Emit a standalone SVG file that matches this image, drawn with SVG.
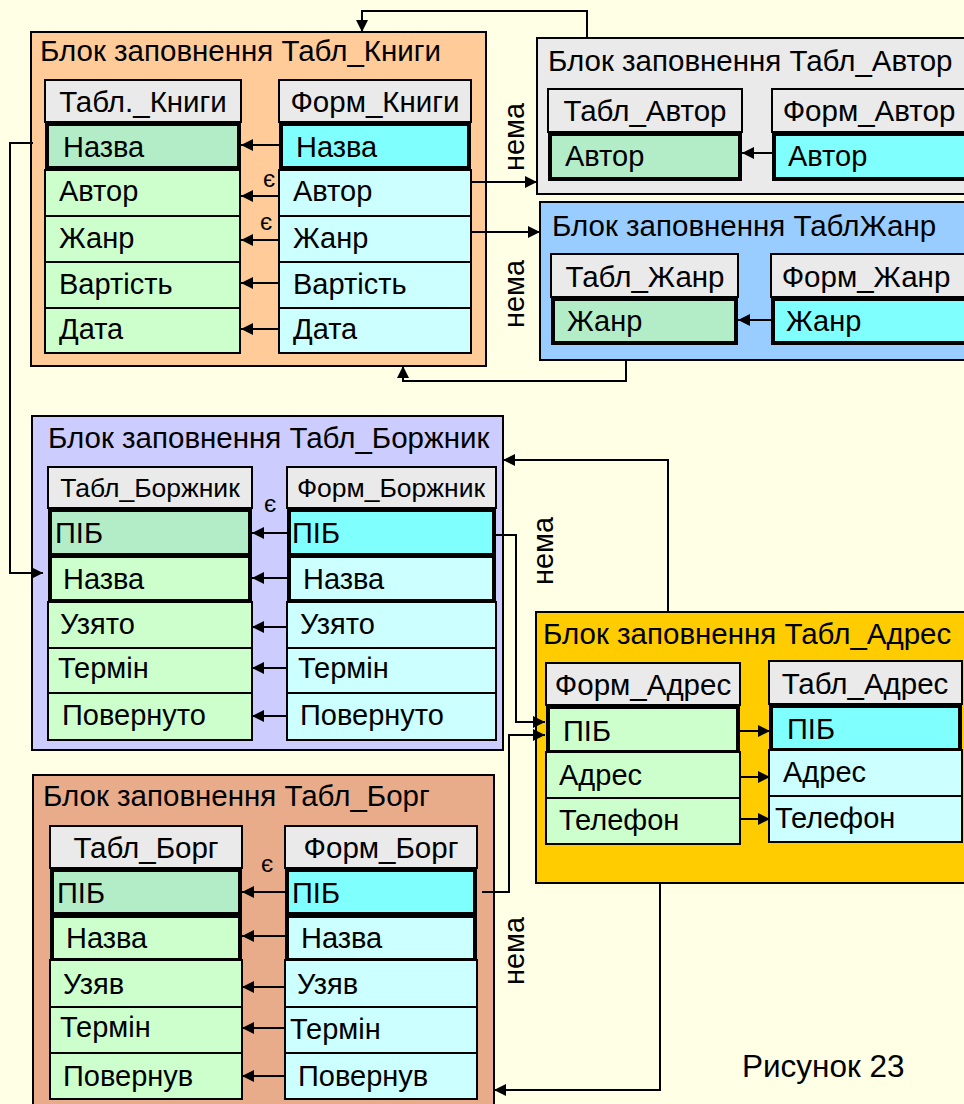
<svg xmlns="http://www.w3.org/2000/svg" width="964" height="1104" viewBox="0 0 964 1104">
<style>
text{font-family:"Liberation Sans",Arial,sans-serif;fill:#000}
.blk{stroke:#000;stroke-width:2}
.ttl{font-size:29.5px}
.hd{fill:#EAEAEA;stroke:#000;stroke-width:2}
.hdt{font-size:29.5px;text-anchor:middle}
.hds{font-size:26.5px;text-anchor:middle}
.rl{fill:#CCFFCC;stroke:#000;stroke-width:2}
.rr{fill:#CCFFFF;stroke:#000;stroke-width:2}
.kl{fill:#B3EDC8;stroke:#000;stroke-width:4}
.kr{fill:#80FFFF;stroke:#000;stroke-width:4}
.kl2{fill:#CCFFCC;stroke:#000;stroke-width:4}
.kr2{fill:#CCFFFF;stroke:#000;stroke-width:4}
.rt{font-size:29px}
.e{font-size:24px;text-anchor:middle}
.c{fill:none;stroke:#000;stroke-width:2;marker-end:url(#ah)}
.nm{font-size:29px;text-anchor:middle}
</style>
<defs>
<marker id="ah" viewBox="0 0 12 12" refX="12" refY="6" markerWidth="12" markerHeight="12" markerUnits="userSpaceOnUse" orient="auto">
<path d="M0,0 L12,6 L0,12 z" fill="#000"/>
</marker>
</defs>
<rect width="964" height="1104" fill="#FFFFE6"/>

<g id="blok-knyhy">
<rect class="blk" x="31" y="32" width="455" height="334" fill="#FFCC99"/>
<text class="ttl" x="40" y="61">Блок заповнення Табл_Книги</text>
<rect class="hd" x="45" y="80" width="196" height="42"/>
<text class="hdt" x="143" y="112">Табл._Книги</text>
<rect class="kl" x="47" y="124" width="192" height="44"/>
<text class="rt" x="63" y="157">Назва</text>
<rect class="rl" x="45" y="170" width="195" height="46"/>
<text class="rt" x="59" y="201">Автор</text>
<rect class="rl" x="45" y="216" width="195" height="46"/>
<text class="rt" x="59" y="248">Жанр</text>
<rect class="rl" x="45" y="262" width="195" height="46"/>
<text class="rt" x="59" y="294">Вартість</text>
<rect class="rl" x="45" y="308" width="195" height="45"/>
<text class="rt" x="59" y="339">Дата</text>
<rect class="hd" x="279" y="80" width="192" height="42"/>
<text class="hdt" x="375" y="112">Форм_Книги</text>
<rect class="kr" x="281" y="124" width="188" height="44"/>
<text class="rt" x="296" y="157">Назва</text>
<rect class="rr" x="279" y="170" width="192" height="46"/>
<text class="rt" x="293" y="201">Автор</text>
<rect class="rr" x="279" y="216" width="192" height="46"/>
<text class="rt" x="293" y="248">Жанр</text>
<rect class="rr" x="279" y="262" width="192" height="46"/>
<text class="rt" x="293" y="294">Вартість</text>
<rect class="rr" x="279" y="308" width="192" height="45"/>
<text class="rt" x="293" y="339">Дата</text>
<text class="e" x="269" y="187">є</text>
<text class="e" x="266" y="230">є</text>
</g>

<g id="blok-avtor">
<rect class="blk" x="537" y="38" width="440" height="156" fill="#EAEAEA"/>
<text class="ttl" x="548" y="71">Блок заповнення Табл_Автор</text>
<rect class="hd" x="548" y="89" width="194" height="43"/>
<text class="hdt" x="645" y="121">Табл_Автор</text>
<rect class="kl" x="550" y="134" width="190" height="45"/>
<text class="rt" x="565" y="166">Автор</text>
<rect class="hd" x="772" y="89" width="200" height="43"/>
<text class="hdt" x="869" y="121">Форм_Автор</text>
<rect class="kr" x="774" y="134" width="200" height="45"/>
<text class="rt" x="788" y="166">Автор</text>
</g>

<g id="blok-zhanr">
<rect class="blk" x="540" y="202" width="440" height="158" fill="#99CCFF"/>
<text class="ttl" x="552" y="236">Блок заповнення ТаблЖанр</text>
<rect class="hd" x="551" y="254" width="187" height="43"/>
<text class="hdt" x="645" y="287">Табл_Жанр</text>
<rect class="kl" x="553" y="299" width="183" height="44"/>
<text class="rt" x="567" y="331">Жанр</text>
<rect class="hd" x="771" y="254" width="200" height="43"/>
<text class="hdt" x="866" y="287">Форм_Жанр</text>
<rect class="kr" x="773" y="299" width="200" height="44"/>
<text class="rt" x="786" y="331">Жанр</text>
</g>

<g id="blok-borzhnyk">
<rect class="blk" x="32" y="416" width="471" height="334" fill="#CCCCFF"/>
<text class="ttl" x="48" y="448">Блок заповнення Табл_Боржник</text>
<rect class="hd" x="48" y="467" width="204" height="41"/>
<text class="hds" x="150" y="497">Табл_Боржник</text>
<rect class="kl" x="50" y="510" width="200" height="45"/>
<text class="rt" x="55" y="543">ПІБ</text>
<rect class="kl2" x="50" y="556" width="200" height="45"/>
<text class="rt" x="63" y="589">Назва</text>
<rect class="rl" x="48" y="602" width="204" height="46"/>
<text class="rt" x="60" y="634">Узято</text>
<rect class="rl" x="48" y="648" width="204" height="45"/>
<text class="rt" x="58" y="678">Термін</text>
<rect class="rl" x="48" y="693" width="204" height="47"/>
<text class="rt" x="62" y="725">Повернуто</text>
<rect class="hd" x="287" y="467" width="209" height="41"/>
<text class="hds" x="391" y="497">Форм_Боржник</text>
<rect class="kr" x="289" y="510" width="205" height="45"/>
<text class="rt" x="292" y="543">ПІБ</text>
<rect class="kr2" x="289" y="556" width="205" height="45"/>
<text class="rt" x="303" y="589">Назва</text>
<rect class="rr" x="287" y="602" width="209" height="46"/>
<text class="rt" x="300" y="634">Узято</text>
<rect class="rr" x="287" y="648" width="209" height="45"/>
<text class="rt" x="298" y="678">Термін</text>
<rect class="rr" x="287" y="693" width="209" height="47"/>
<text class="rt" x="300" y="725">Повернуто</text>
<text class="e" x="270" y="512">є</text>
</g>

<g id="blok-adres">
<rect class="blk" x="536" y="612" width="440" height="271" fill="#FFCC00"/>
<text class="ttl" x="543" y="644">Блок заповнення Табл_Адрес</text>
<rect class="hd" x="546" y="663" width="194" height="42"/>
<text class="hdt" x="643" y="695">Форм_Адрес</text>
<rect class="kl2" x="548" y="707" width="190" height="45"/>
<text class="rt" x="563" y="741">ПІБ</text>
<rect class="rl" x="546" y="752" width="194" height="46"/>
<text class="rt" x="559" y="785">Адрес</text>
<rect class="rl" x="546" y="798" width="194" height="46"/>
<text class="rt" x="559" y="830">Телефон</text>
<rect class="hd" x="769" y="661" width="193" height="43"/>
<text class="hdt" x="865" y="694">Табл_Адрес</text>
<rect class="kr" x="771" y="706" width="189" height="44"/>
<text class="rt" x="787" y="739">ПІБ</text>
<rect class="rr" x="769" y="750" width="193" height="46"/>
<text class="rt" x="783" y="782">Адрес</text>
<rect class="rr" x="769" y="796" width="193" height="46"/>
<text class="rt" x="775" y="828">Телефон</text>
</g>

<g id="blok-borh">
<rect class="blk" x="33" y="775" width="461" height="340" fill="#E8AC8A"/>
<text class="ttl" x="43" y="806">Блок заповнення Табл_Борг</text>
<rect class="hd" x="50" y="826" width="192" height="42"/>
<text class="hdt" x="146" y="858">Табл_Борг</text>
<rect class="kl" x="52" y="870" width="188" height="44"/>
<text class="rt" x="57" y="903">ПІБ</text>
<rect class="kl2" x="52" y="916" width="188" height="44"/>
<text class="rt" x="66" y="948">Назва</text>
<rect class="rl" x="50" y="960" width="192" height="47"/>
<text class="rt" x="63" y="994">Узяв</text>
<rect class="rl" x="50" y="1007" width="192" height="46"/>
<text class="rt" x="60" y="1037">Термін</text>
<rect class="rl" x="50" y="1053" width="192" height="46"/>
<text class="rt" x="63" y="1086">Повернув</text>
<rect class="hd" x="285" y="826" width="192" height="42"/>
<text class="hdt" x="381" y="858">Форм_Борг</text>
<rect class="kr" x="287" y="870" width="188" height="44"/>
<text class="rt" x="292" y="903">ПІБ</text>
<rect class="kr2" x="287" y="916" width="188" height="44"/>
<text class="rt" x="301" y="948">Назва</text>
<rect class="rr" x="285" y="960" width="192" height="47"/>
<text class="rt" x="297" y="994">Узяв</text>
<rect class="rr" x="285" y="1007" width="192" height="46"/>
<text class="rt" x="290" y="1039">Термін</text>
<rect class="rr" x="285" y="1053" width="192" height="46"/>
<text class="rt" x="298" y="1086">Повернув</text>
<text class="e" x="267" y="872">є</text>
</g>

<g id="connectors">
<line class="c" x1="279" y1="145" x2="241" y2="145"/>
<line class="c" x1="279" y1="196" x2="241" y2="196"/>
<line class="c" x1="279" y1="240" x2="241" y2="240"/>
<line class="c" x1="279" y1="283" x2="241" y2="283"/>
<line class="c" x1="279" y1="329" x2="241" y2="329"/>
<line class="c" x1="471" y1="182" x2="537" y2="182"/>
<line class="c" x1="471" y1="232" x2="540" y2="232"/>
<line class="c" x1="772" y1="153" x2="742" y2="153"/>
<line class="c" x1="771" y1="320" x2="738" y2="320"/>
<path class="c" d="M587,38 V11 H362 V32"/>
<path class="c" d="M626,360 V381 H403 V366"/>
<path class="c" d="M33,143 H10 V573 H43"/>
<line class="c" x1="287" y1="533" x2="252" y2="533"/>
<line class="c" x1="287" y1="578" x2="252" y2="578"/>
<line class="c" x1="287" y1="627" x2="252" y2="627"/>
<line class="c" x1="287" y1="668" x2="252" y2="668"/>
<line class="c" x1="287" y1="716" x2="252" y2="716"/>
<path class="c" d="M492,535 H516 V722 H545"/>
<path class="c" d="M482,892 H509 V735 H545"/>
<line class="c" x1="740" y1="731" x2="770" y2="731"/>
<line class="c" x1="740" y1="777" x2="770" y2="777"/>
<line class="c" x1="740" y1="819" x2="770" y2="819"/>
<path class="c" d="M668,612 V460 H503"/>
<path class="c" d="M660,883 V1090 H494"/>
<line class="c" x1="285" y1="892" x2="242" y2="892"/>
<line class="c" x1="285" y1="936" x2="242" y2="936"/>
<line class="c" x1="285" y1="987" x2="242" y2="987"/>
<line class="c" x1="285" y1="1028" x2="242" y2="1028"/>
<line class="c" x1="285" y1="1076" x2="242" y2="1076"/>
<text class="nm" transform="translate(524,137) rotate(-90)">нема</text>
<text class="nm" transform="translate(524,294) rotate(-90)">нема</text>
<text class="nm" transform="translate(553,551) rotate(-90)">нема</text>
<text class="nm" transform="translate(524,951) rotate(-90)">нема</text>
</g>
<text x="742" y="1077" style="font-size:31.5px">Рисунок 23</text>
</svg>
